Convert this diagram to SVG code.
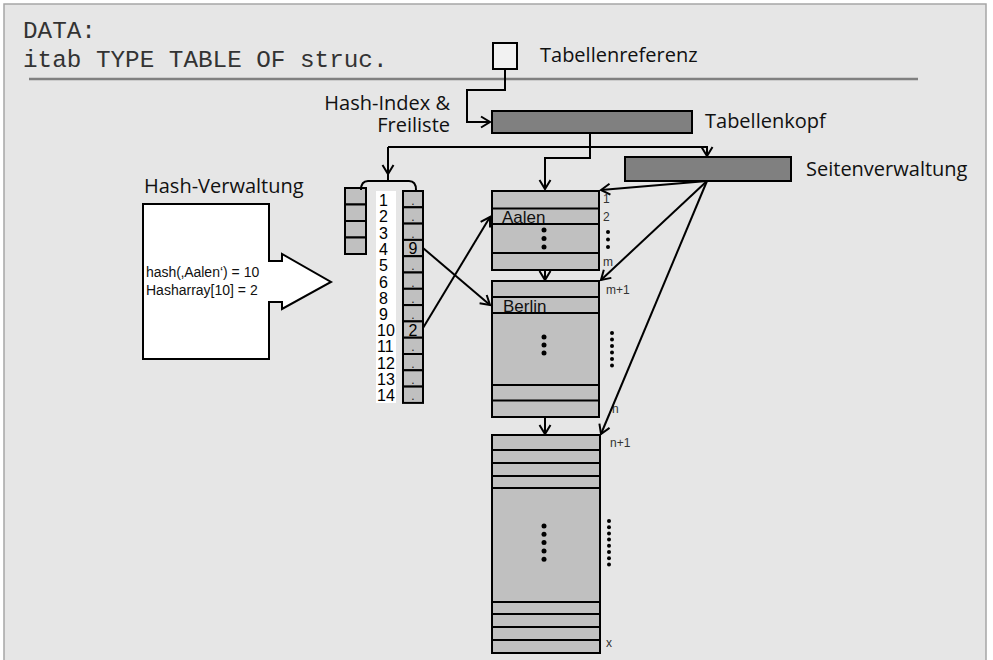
<svg xmlns="http://www.w3.org/2000/svg" width="993" height="660" viewBox="0 0 993 660">
<defs>
<marker id="arr" markerUnits="userSpaceOnUse" markerWidth="14" markerHeight="14" viewBox="0 0 14 14" refX="11" refY="7" orient="auto">
<path d="M2,1.5 L11,7 L2,12.5" fill="none" stroke="#000" stroke-width="2"/>
</marker>
</defs>
<style>
.lbl{font-family:"Open Sans",Lato,"DejaVu Sans",sans-serif;font-size:20px;fill:#111}
.code{font-family:"Liberation Mono","Courier New",monospace;font-size:24.3px;fill:#333}
.ar{font-family:"Liberation Sans",Arial,sans-serif;fill:#111}
.num{font-family:"Liberation Sans",Arial,sans-serif;font-size:16px;fill:#000}
.dot{font-family:"Liberation Sans",Arial,sans-serif;font-size:12px;fill:#222}
.side{font-family:"Liberation Sans",Arial,sans-serif;font-size:12px;fill:#333}
.cell{fill:#c0c0c0;stroke:#000;stroke-width:2}
.dark{fill:#808080;stroke:#000;stroke-width:2}
.ln{fill:none;stroke:#000;stroke-width:2}
.con{fill:none;stroke:#000;stroke-width:2}
</style>
<rect x="0" y="0" width="993" height="660" fill="#fff"/>
<rect x="4" y="4" width="982" height="670" fill="#e6e6e6" stroke="#a6a6a6" stroke-width="1.5"/>
<line x1="29" y1="79" x2="918" y2="79" stroke="#808080" stroke-width="2.5"/>
<text class="code" x="23" y="38">DATA:</text>
<text class="code" x="23" y="67">itab TYPE TABLE OF struc.</text>

<g id="tabellenreferenz">
<rect x="493" y="43" width="24" height="26" fill="#f2f2f2" stroke="#000" stroke-width="2"/>
<text class="lbl" x="540" y="62">Tabellenreferenz</text>
</g>
<g id="hashindex-label">
<text class="lbl" x="450" y="110" text-anchor="end">Hash-Index &amp;</text>
<text class="lbl" x="450" y="132" text-anchor="end">Freiliste</text>
</g>
<g id="tabellenkopf">
<rect class="dark" x="492" y="111" width="200" height="22"/>
<text class="lbl" x="705" y="128">Tabellenkopf</text>
</g>
<g id="seitenverwaltung">
<rect class="dark" x="625" y="157" width="166" height="24"/>
<text class="lbl" x="806" y="176">Seitenverwaltung</text>
</g>

<g id="hashverwaltung">
<text class="lbl" x="144" y="193">Hash-Verwaltung</text>
<polygon points="143,204 269,204 269,261 282,261 282,254 331,282 282,309 282,302 269,302 269,359 143,359" fill="#fff" stroke="#000" stroke-width="2"/>
<text class="ar" font-size="14" x="146" y="277">hash(‚Aalen‘) = 10</text>
<text class="ar" font-size="14" x="146" y="295">Hasharray[10] = 2</text>
</g>

<g id="freiliste">
<rect class="cell" x="345" y="188" width="21" height="16.5"/>
<rect class="cell" x="345" y="204.5" width="21" height="16.5"/>
<rect class="cell" x="345" y="221" width="21" height="16.5"/>
<rect class="cell" x="345" y="237.5" width="21" height="16.5"/>
</g>

<g id="hashindex">
<path class="ln" d="M361,190 Q361,181 368,181 L409,181 Q416,181 416,190"/>
<rect x="376" y="191" width="20" height="212" fill="#fff"/>
<g class="num">
<text x="379" y="206">1</text>
<text x="379" y="222">2</text>
<text x="379" y="238.5">3</text>
<text x="379" y="255">4</text>
<text x="379" y="271">5</text>
<text x="379" y="287.5">6</text>
<text x="379" y="303.5">8</text>
<text x="379" y="320">9</text>
<text x="377" y="336">10</text>
<text x="377" y="352">11</text>
<text x="377" y="368.5">12</text>
<text x="377" y="385">13</text>
<text x="377" y="401">14</text>
</g>
<g>
<rect class="cell" x="403" y="191" width="20" height="16.3"/>
<rect class="cell" x="403" y="207.3" width="20" height="16.3"/>
<rect class="cell" x="403" y="223.6" width="20" height="16.3"/>
<rect class="cell" x="403" y="239.9" width="20" height="16.3"/>
<rect class="cell" x="403" y="256.2" width="20" height="16.3"/>
<rect class="cell" x="403" y="272.5" width="20" height="16.3"/>
<rect class="cell" x="403" y="288.8" width="20" height="16.3"/>
<rect class="cell" x="403" y="305.1" width="20" height="16.3"/>
<rect class="cell" x="403" y="321.4" width="20" height="16.3"/>
<rect class="cell" x="403" y="337.7" width="20" height="16.3"/>
<rect class="cell" x="403" y="354" width="20" height="16.3"/>
<rect class="cell" x="403" y="370.3" width="20" height="16.3"/>
<rect class="cell" x="403" y="386.6" width="20" height="16.3"/>
</g>
<g class="dot" text-anchor="middle">
<text x="413" y="205">.</text>
<text x="413" y="221">.</text>
<text x="413" y="237.5">.</text>
<text x="413" y="270">.</text>
<text x="413" y="286.5">.</text>
<text x="413" y="302.5">.</text>
<text x="413" y="318.5">.</text>
<text x="413" y="351">.</text>
<text x="413" y="367.5">.</text>
<text x="413" y="384">.</text>
<text x="413" y="400">.</text>
</g>
<g class="num" text-anchor="middle" fill="#222">
<text x="413" y="254">9</text>
<text x="413" y="335.5">2</text>
</g>
</g>

<g id="seite1">
<rect class="cell" x="492" y="191" width="107" height="79"/>
<line class="ln" x1="492" y1="208.5" x2="599" y2="208.5"/>
<line class="ln" x1="492" y1="224" x2="599" y2="224"/>
<line class="ln" x1="492" y1="253" x2="599" y2="253"/>
<text class="ar" font-size="17" x="502" y="223" fill="#222">Aalen</text>
<circle cx="544" cy="230" r="2.5"/><circle cx="544" cy="238.5" r="2.5"/><circle cx="544" cy="247" r="2.5"/>
<text class="side" x="603" y="203">1</text>
<text class="side" x="603" y="221">2</text>
<circle cx="608" cy="232" r="2"/><circle cx="608" cy="239.5" r="2"/><circle cx="608" cy="247" r="2"/>
<text class="side" x="603" y="266">m</text>
</g>

<g id="seite2">
<rect class="cell" x="492" y="281" width="107" height="136"/>
<line class="ln" x1="492" y1="297" x2="599" y2="297"/>
<line class="ln" x1="492" y1="313" x2="599" y2="313"/>
<line class="ln" x1="492" y1="385" x2="599" y2="385"/>
<line class="ln" x1="492" y1="400.5" x2="599" y2="400.5"/>
<text class="ar" font-size="17" x="503" y="312" fill="#222">Berlin</text>
<circle cx="544" cy="337" r="2.5"/><circle cx="544" cy="345" r="2.5"/><circle cx="544" cy="353" r="2.5"/>
<text class="side" x="606" y="294">m+1</text>
<circle cx="612" cy="333" r="2"/><circle cx="612" cy="339.5" r="2"/><circle cx="612" cy="346" r="2"/><circle cx="612" cy="352.5" r="2"/><circle cx="612" cy="359" r="2"/><circle cx="612" cy="365.5" r="2"/>
<text class="side" x="612" y="413">n</text>
</g>

<g id="seite3">
<rect class="cell" x="492" y="435" width="108" height="218"/>
<line class="ln" x1="492" y1="450" x2="600" y2="450"/>
<line class="ln" x1="492" y1="463" x2="600" y2="463"/>
<line class="ln" x1="492" y1="476" x2="600" y2="476"/>
<line class="ln" x1="492" y1="488" x2="600" y2="488"/>
<line class="ln" x1="492" y1="602" x2="600" y2="602"/>
<line class="ln" x1="492" y1="614" x2="600" y2="614"/>
<line class="ln" x1="492" y1="627" x2="600" y2="627"/>
<line class="ln" x1="492" y1="640" x2="600" y2="640"/>
<circle cx="544" cy="526" r="2.5"/><circle cx="544" cy="534.3" r="2.5"/><circle cx="544" cy="542.6" r="2.5"/><circle cx="544" cy="550.9" r="2.5"/><circle cx="544" cy="559.2" r="2.5"/>
<text class="side" x="610" y="447">n+1</text>
<circle cx="609" cy="521" r="2"/><circle cx="609" cy="527.2" r="2"/><circle cx="609" cy="533.4" r="2"/><circle cx="609" cy="539.6" r="2"/><circle cx="609" cy="545.8" r="2"/><circle cx="609" cy="552" r="2"/><circle cx="609" cy="558.2" r="2"/><circle cx="609" cy="564.4" r="2"/>
<text class="side" x="606" y="647">x</text>
</g>

<g id="connectors">
<path class="con" d="M505,69 V90 H467 V122 H490" marker-end="url(#arr)"/>
<path class="con" d="M590,134 V158 H545 V189" marker-end="url(#arr)"/>
<path class="con" d="M388,147 H707 V156" marker-end="url(#arr)"/>
<path class="con" d="M388,147 V174" marker-end="url(#arr)"/>
<line class="con" x1="388" y1="172" x2="388" y2="181"/>
<line class="con" x1="707" y1="181" x2="601" y2="190" marker-end="url(#arr)"/>
<line class="con" x1="707" y1="181" x2="601" y2="280" marker-end="url(#arr)"/>
<line class="con" x1="707" y1="181" x2="601" y2="434" marker-end="url(#arr)"/>
<line class="con" x1="545" y1="270" x2="545" y2="280" marker-end="url(#arr)"/>
<line class="con" x1="545" y1="417" x2="545" y2="434" marker-end="url(#arr)"/>
<line class="con" x1="423" y1="248" x2="490" y2="305" marker-end="url(#arr)"/>
<line class="con" x1="423" y1="328" x2="490" y2="217" marker-end="url(#arr)"/>
</g>
</svg>
